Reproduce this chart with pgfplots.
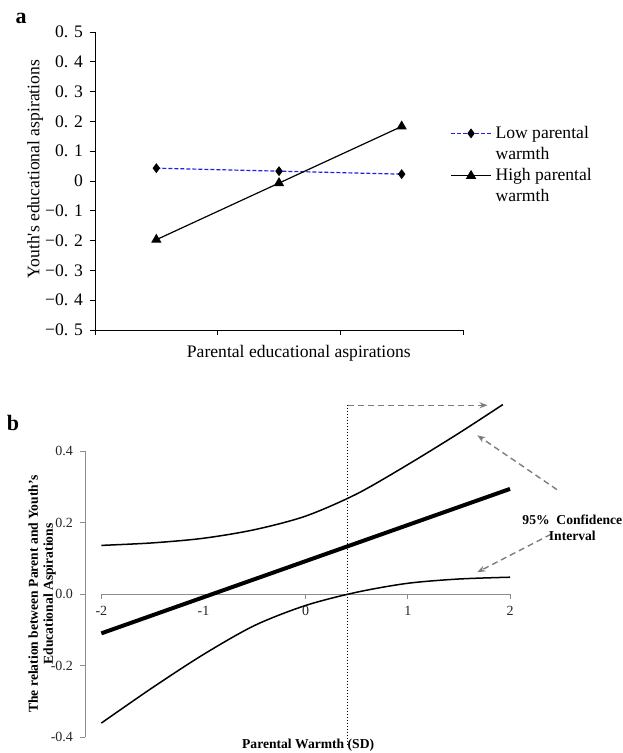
\documentclass[border=0pt]{standalone}
\usepackage{pgfplots}
\pgfplotsset{compat=1.18}
\usepackage{fontspec}
\setmainfont{Liberation Serif}
\usetikzlibrary{arrows.meta}
\definecolor{lowblue}{RGB}{30,30,230}
\definecolor{axgray}{RGB}{140,140,140}
\definecolor{arrgray}{RGB}{125,125,125}
\begin{document}
\begin{tikzpicture}
\useasboundingbox (0,0) rectangle (311pt,-376.5pt);
\node[font=\fontsize{11}{13}\selectfont\bfseries] at (10.5pt,-9pt) {a};
\node[font=\fontsize{11}{13}\selectfont\bfseries] at (6.5pt,-211.5pt) {b};

% ---------------- panel a ----------------
\begin{axis}[
  at={(47.5pt,-165pt)}, anchor=south west,
  scale only axis, width=184pt, height=149pt,
  xmin=0.5, xmax=3.5, ymin=-0.5, ymax=0.5,
  axis lines=left, axis line style={-, line width=0.5pt},
  xtick={0.5,1.5,2.5,3.5}, xticklabels={},
  ytick={-0.5,-0.4,-0.3,-0.2,-0.1,0,0.1,0.2,0.3,0.4,0.5},
  yticklabels={−0. 5,−0. 4,−0. 3,−0. 2,−0. 1,0,0. 1,0. 2,0. 3,0. 4,0. 5},
  tick align=outside, major tick length=2.5pt,
  tick style={black, line width=0.4pt},
  ticklabel style={font=\fontsize{8.8}{10}\selectfont},
  label style={font=\fontsize{8.8}{10}\selectfont},
  ylabel={Youth\textquotesingle s educational aspirations},
  ylabel style={at={(axis description cs:-0.163,0.54)}, anchor=center},
  xlabel={Parental educational aspirations},
  xlabel style={at={(axis description cs:0.554,-0.077)}, anchor=center},
  legend style={draw=none, fill=none, at={(axis description cs:0.965,0.70)}, anchor=north west,
    font=\fontsize{8.8}{10}\selectfont, row sep=-1pt, inner sep=0pt},
  legend cell align=left,
  legend image code/.code={\draw[mark repeat=2,mark phase=2,#1] plot coordinates {(0cm,0cm) (0.35cm,0cm) (0.7cm,0cm)};},
  clip=false,
]
\addplot[lowblue, dash pattern=on 2pt off 1pt, line width=0.6pt, mark=diamond*, mark size=2pt,
  mark options={solid, fill=black, draw=black}] coordinates {(1,0.043)(2,0.033)(3,0.023)};
\addlegendentry{Low parental}
\addlegendimage{empty legend}
\addlegendentry{warmth}
\addplot[black, line width=0.6pt, mark=triangle*, mark size=2.4pt, mark options={fill=black}]
  coordinates {(1,-0.197)(2,-0.007)(3,0.183)};
\addlegendentry{High parental}
\addlegendimage{empty legend}
\addlegendentry{warmth}
\end{axis}

% ---------------- panel b ----------------
\begin{axis}[
  at={(42.5pt,-368.5pt)}, anchor=south west,
  scale only axis, width=212.5pt, height=143pt,
  xmin=-2.16, xmax=2, ymin=-0.4, ymax=0.4,
  axis y line=left, axis x line=middle,
  axis line style={-, axgray, line width=0.5pt},
  x axis line style={draw=none},
  xtick={-2,-1,0,1,2}, xticklabels={-2,-1,0,1,2},
  ytick={-0.4,-0.2,0,0.2,0.4}, yticklabels={-0.4,-0.2,0.0,0.2,0.4},
  tick align=outside, major tick length=2.5pt,
  tick style={axgray, line width=0.5pt},
  ticklabel style={font=\fontsize{7}{8}\selectfont, text=black!85},
  ylabel={The relation between Parent and Youth’s\\Educational Aspirations},
  ylabel style={align=center, at={(axis description cs:-0.101,0.5)}, anchor=center,
    font=\fontsize{6.8}{7.5}\selectfont\bfseries},
  xlabel={Parental Warmth (SD)},
  xlabel style={at={(axis description cs:0.525,-0.028)}, anchor=center,
    font=\fontsize{6.8}{8}\selectfont\bfseries},
  clip=false,
]
\draw[axgray, line width=0.5pt] (axis cs:-2,0) -- (axis cs:2,0);
% central estimate
\addplot[black, line width=2pt] coordinates {
  (-2,-0.110)(-1,-0.009)(0,0.092)(1,0.193)(2,0.294)};
% upper CI
\addplot[black, line width=0.75pt, smooth] coordinates {
  (-2,0.136)(-1.5,0.143)(-1,0.156)(-0.5,0.180)(0,0.218)(0.5,0.280)(1,0.362)(1.5,0.450)(1.93,0.530)};
% lower CI
\addplot[black, line width=0.75pt, smooth] coordinates {
  (-2,-0.361)(-1.5,-0.262)(-1,-0.169)(-0.5,-0.088)(0,-0.032)(0.5,0.005)(1,0.030)(1.5,0.042)(2,0.047)};
\draw[black, densely dotted, line width=0.5pt] (axis cs:0.41,0.53) -- (axis cs:0.41,-0.422);
\draw[arrgray, line width=0.7pt, dash pattern=on 3pt off 2pt, -{Stealth[length=4pt,width=3pt]}]
  (axis cs:0.41,0.528) -- (axis cs:1.78,0.528);
\draw[arrgray, line width=0.7pt, dash pattern=on 3pt off 2pt, -{Stealth[length=4pt,width=3pt]}]
  (axis cs:2.46,0.292) -- (axis cs:1.68,0.444);
\draw[arrgray, line width=0.7pt, dash pattern=on 3pt off 2pt, -{Stealth[length=4pt,width=3pt]}]
  (axis cs:2.40,0.167) -- (axis cs:1.68,0.061);
\node[align=center, font=\fontsize{6.8}{8}\selectfont\bfseries] at (axis cs:2.61,0.186)
  {95\%~~Confidence\\Interval};
\end{axis}
\end{tikzpicture}
\end{document}
